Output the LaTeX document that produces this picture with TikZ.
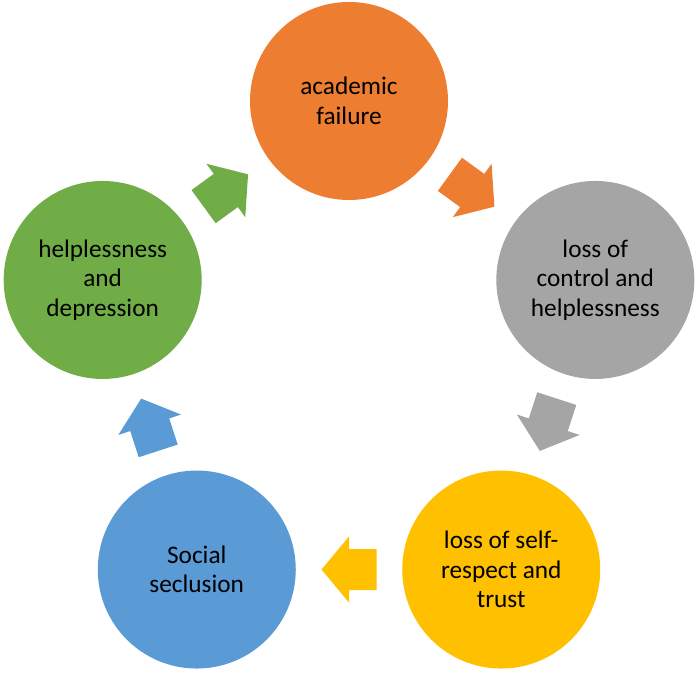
\documentclass[tikz,border=0pt]{standalone}
\usepackage{fontspec}
\setmainfont{Carlito}
\usetikzlibrary{calc}

\definecolor{failorange}{HTML}{ED7D31}
\definecolor{lossgray}{HTML}{A5A5A5}
\definecolor{trustyellow}{HTML}{FFC000}
\definecolor{seclblue}{HTML}{5B9BD5}
\definecolor{deprgreen}{HTML}{70AD47}

\begin{document}
\begin{tikzpicture}[x=1pt, y=1pt,
    stage/.style={circle, minimum size=198pt, inner sep=0pt, align=center,
      font=\fontsize{25.3}{29.5}\selectfont},
    blockarrow/.pic={\fill (-27.5,-20.5) -- (0,-20.5) -- (0,-33) -- (27.5,0)
      -- (0,33) -- (0,20.5) -- (-27.5,20.5) -- cycle;}]
    \useasboundingbox (0,0) rectangle (698,672);
    \coordinate (O) at (349,312);
    % the five stages of the cycle
    \node[stage, fill=failorange] (failure) at ($(O)+(90:259)$) {academic\\failure};
    \node[stage, fill=lossgray] (control) at ($(O)+(18:259)$) {loss of\\control and\\helplessness};
    \node[stage, fill=trustyellow] (respect) at ($(O)+(-54:259)$) {loss of self-\\respect and\\trust};
    \node[stage, fill=seclblue] (seclusion) at ($(O)+(-126:259)$) {Social\\seclusion};
    \node[stage, fill=deprgreen] (depression) at ($(O)+(162:259)$) {helplessness\\and\\depression};
    % block arrows between them
    \pic[fill=failorange, rotate=-36] at ($(failure)!0.5!(control)$) {blockarrow};
    \pic[fill=lossgray, rotate=-108] at ($(control)!0.5!(respect)$) {blockarrow};
    \pic[fill=trustyellow, rotate=180] at ($(respect)!0.5!(seclusion)$) {blockarrow};
    \pic[fill=seclblue, rotate=108] at ($(seclusion)!0.5!(depression)$) {blockarrow};
    \pic[fill=deprgreen, rotate=36] at ($(depression)!0.5!(failure)$) {blockarrow};
\end{tikzpicture}
\end{document}
